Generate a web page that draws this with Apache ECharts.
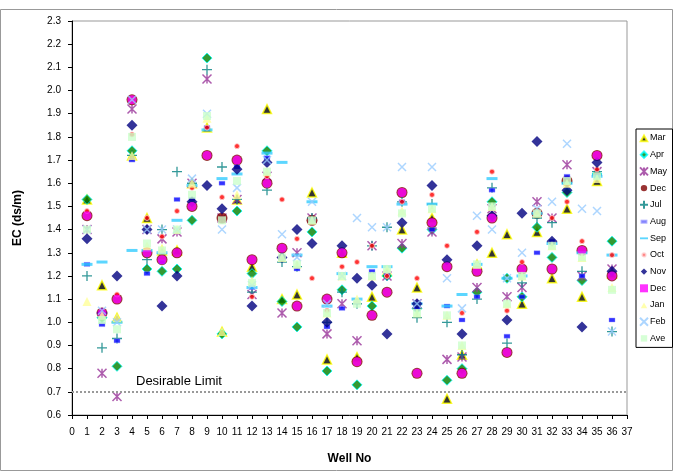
<!DOCTYPE html>
<html><head><meta charset="utf-8">
<script src="https://cdn.jsdelivr.net/npm/echarts@6/dist/echarts.min.js"></script>
<style>html,body{margin:0;padding:0;background:#fff}#c{width:674px;height:472px}</style>
</head><body><div id="c"></div>
<script>
const wells = [1,2,3,4,5,6,7,8,9,10,11,12,13,14,15,16,17,18,19,20,21,22,23,24,25,26,27,28,29,30,31,32,33,34,35,36];
const xTicks = [0,1,2,3,4,5,6,7,8,9,10,11,12,13,14,15,16,17,18,19,20,21,22,23,24,25,26,27,28,29,30,31,32,33,34,35,36,37];
const mar = [1.53,1.16,1.02,1.72,1.45,1.31,1.31,1.60,1.84,0.96,1.53,1.24,1.92,1.10,1.12,1.56,0.84,1.30,0.85,1.11,1.22,1.40,1.15,1.45,0.67,0.86,1.25,1.30,1.38,1.08,1.39,1.19,1.49,1.11,1.61,1.21];
const apr = [1.53,1.02,0.81,1.74,1.23,1.22,1.23,1.44,2.14,0.95,1.48,1.21,1.74,1.09,0.98,1.39,0.79,1.14,0.73,1.07,1.20,1.32,1.06,1.40,0.75,0.80,1.13,1.52,1.19,1.11,1.41,1.28,1.56,1.18,1.64,1.35];
const may = [1.40,0.78,0.68,1.92,1.40,1.36,1.39,1.60,2.05,1.45,1.53,1.12,1.63,1.04,1.30,1.45,0.95,1.08,0.92,1.33,1.20,1.34,1.08,1.39,0.84,0.85,1.15,1.49,1.11,1.15,1.52,1.45,1.68,1.20,1.65,1.23];
const dec1 = [1.46,1.04,1.10,1.96,1.30,1.27,1.30,1.50,1.72,1.45,1.70,1.27,1.60,1.32,1.07,1.44,1.10,1.30,0.83,1.03,1.13,1.56,0.78,1.43,1.24,0.78,1.22,1.45,0.87,1.23,1.47,1.23,1.61,1.31,1.72,1.20];
const jul = [1.20,0.89,0.93,1.72,1.27,1.40,1.65,1.60,2.09,1.67,1.53,1.13,1.57,1.26,1.24,1.45,1.00,1.13,1.08,1.33,1.41,1.52,1.02,1.51,1.00,0.86,1.10,1.58,0.91,1.17,1.45,1.43,1.60,1.22,1.65,0.96];
const aug = [1.25,0.99,0.92,1.70,1.21,1.26,1.53,1.53,1.84,1.60,1.67,1.15,1.71,1.27,1.23,1.44,0.98,1.06,1.09,1.22,1.21,1.52,1.06,1.40,1.07,1.01,1.11,1.57,0.94,1.11,1.30,1.35,1.63,1.20,1.63,1.01];
const sep = [1.25,1.26,1.00,1.31,1.31,1.30,1.44,1.59,1.83,1.62,1.64,1.15,1.73,1.69,1.29,1.52,1.07,1.21,1.10,1.24,1.24,1.51,1.08,1.51,1.07,1.12,1.25,1.62,1.19,1.20,1.47,1.34,1.60,1.30,1.63,1.29];
const oct = [1.48,1.05,1.12,1.81,1.45,1.37,1.48,1.58,1.84,1.54,1.76,1.11,1.63,1.53,1.36,1.19,1.05,1.24,1.26,1.33,1.20,1.52,1.19,1.55,1.33,1.04,1.39,1.65,1.05,1.26,1.47,1.45,1.52,1.35,1.66,1.29];
const nov = [1.36,1.04,1.20,1.85,1.40,1.07,1.20,1.52,1.59,1.49,1.66,1.07,1.69,1.28,1.40,1.34,1.00,1.33,1.19,1.16,0.95,1.43,1.08,1.59,1.27,0.95,1.33,1.46,1.01,1.47,1.78,1.35,1.57,0.98,1.69,1.22];
const dec2 = [1.46,1.04,1.10,1.96,1.30,1.27,1.30,1.50,1.72,null,1.70,1.27,1.60,1.32,1.07,null,1.10,1.30,0.83,1.03,1.13,1.56,0.78,1.43,1.24,0.78,1.22,1.45,0.87,1.23,null,1.23,null,1.31,1.72,1.20];
const jan = [1.09,1.03,1.02,1.72,1.33,1.32,1.40,1.60,1.88,0.96,1.55,1.18,1.65,1.28,1.25,1.44,1.04,1.20,1.10,1.20,1.23,1.48,1.04,1.49,1.03,0.90,1.25,1.50,1.08,1.20,1.47,1.33,1.60,1.28,1.62,1.15];
const feb = [1.40,1.05,1.00,1.96,1.40,1.40,1.40,1.62,1.90,1.40,1.58,1.16,1.70,1.38,1.28,1.52,1.08,1.20,1.45,1.41,1.41,1.67,1.08,1.67,1.19,1.06,1.46,1.40,1.19,1.30,1.49,1.52,1.77,1.49,1.48,0.96];
const ave = [1.40,1.01,0.97,1.80,1.34,1.31,1.40,1.55,1.89,1.44,1.61,1.17,1.65,1.28,1.25,1.44,1.04,1.20,1.08,1.20,1.23,1.47,1.04,1.49,1.03,0.90,1.25,1.50,1.08,1.20,1.47,1.33,1.61,1.28,1.63,1.14];
const limitValue = 0.705;

const pts = arr => wells.map((w,i)=>[w,arr[i]]).filter(p=>p[1]!=null);
const chart = echarts.init(document.getElementById('c'));
const mk = (name, arr, symbol, size, style, extra) => Object.assign({
  name, type:'scatter', data:pts(arr), symbol, symbolSize:size, itemStyle:style, silent:true
}, extra||{});

const series = [
  mk('Mar', mar, 'triangle', 9, {color:'#000', borderColor:'#ffff00', borderWidth:1.5}),
  mk('Apr', apr, 'diamond', 10, {color:'#008000', borderColor:'#00ffff', borderWidth:1}),
  mk('May', may, 'path://M0,0L10,10M10,0L0,10M5,0L5,10', 9, {color:'rgba(0,0,0,0)', borderColor:'#993399', borderWidth:1.5}),
  mk('Dec', dec1, 'circle', 11, {color:'#800000'}),
  mk('Jul', jul, 'path://M5,0L5,10M0,5L10,5', 10, {color:'rgba(0,0,0,0)', borderColor:'#008080', borderWidth:1.3}),
  mk('Aug', aug, 'rect', [6,4], {color:'#0000ff', borderColor:'#9999ff', borderWidth:0.5}),
  mk('Sep', sep, 'rect', [11,3], {color:'#33ccff'}),
  mk('Oct', oct, 'circle', 5, {color:'#ff0000', borderColor:'#ffcccc', borderWidth:1}),
  mk('Nov', nov, 'diamond', 11, {color:'#000080'}),
  mk('Dec ', dec2, 'circle', 9, {color:'#ff00ff'}),
  mk('Jan', jan, 'triangle', 9, {color:'#ffff99'}),
  mk('Feb', feb, 'path://M0,0L10,10M10,0L0,10', 8, {color:'rgba(0,0,0,0)', borderColor:'#99ccff', borderWidth:1.5}),
  mk('Ave', ave, 'rect', 8, {color:'#ccffcc'}, {
    markLine:{silent:true, symbol:'none', label:{show:false},
      lineStyle:{type:'dotted', color:'#999', width:2},
      data:[{yAxis:limitValue}]}
  })
];

const legendIcons = {
  'Mar':'path://M0,0M10,10M5,2L9,9L1,9Z',
  'Apr':'path://M0,0M10,10M5,1L9,5L5,9L1,5Z',
  'Dec':'path://M0,0M10,10M5,1A4,4,0,1,1,4.99,1Z',
  'Aug':'path://M0,0M10,10M2,4L8,4L8,6.5L2,6.5Z',
  'Sep':'path://M0,0M10,10M0,4L10,4L10,6.3L0,6.3Z',
  'Oct':'path://M0,0M10,10M5,3A2,2,0,1,1,4.99,3Z',
  'Nov':'path://M0,0M10,10M5,1L9,5L5,9L1,5Z',
  'Dec ':'rect',
  'Jan':'path://M0,0M10,10M5,2L9,9L1,9Z',
  'Ave':'path://M0,0M10,10M1,1L9,1L9,9L1,9Z'
};

chart.setOption({
  animation:false,
  backgroundColor:'#fff',
  grid:{left:72, right:47, top:21, bottom:57, show:true, borderColor:'#999', borderWidth:1},
  xAxis:{type:'value', min:xTicks[0], max:xTicks[xTicks.length-1], interval:1,
    name:'Well No', nameLocation:'middle', nameGap:38,
    nameTextStyle:{fontFamily:'Arial, Liberation Sans', fontWeight:'bold', fontSize:12, color:'#000'},
    axisLine:{lineStyle:{color:'#000'}}, axisTick:{inside:false, length:4, lineStyle:{color:'#000'}},
    axisLabel:{fontFamily:'Arial, Liberation Sans', fontSize:10, color:'#000', margin:12},
    splitLine:{show:false}},
  yAxis:{type:'value', min:0.6, max:2.3, interval:0.1,
    name:'EC (ds/m)', nameLocation:'middle', nameGap:48,
    nameTextStyle:{fontFamily:'Arial, Liberation Sans', fontWeight:'bold', fontSize:12, color:'#000'},
    axisLine:{show:true, lineStyle:{color:'#000'}}, axisTick:{show:true, length:4, lineStyle:{color:'#000'}},
    axisLabel:{fontFamily:'Arial, Liberation Sans', fontSize:10, color:'#000', margin:11, formatter:v=>v.toFixed(1)},
    splitLine:{show:false}},
  legend:{orient:'vertical', left:636, top:129, itemWidth:8, itemHeight:8, itemGap:6.7,
    padding:[4,4,4,3], borderColor:'#000', borderWidth:1, backgroundColor:'#fff',
    textStyle:{fontFamily:'Arial, Liberation Sans', fontSize:9, color:'#000', lineHeight:10, padding:[0,0,0,-3]},
    data:series.map(s=>legendIcons[s.name] ? {name:s.name, icon:legendIcons[s.name]} : s.name)},
  graphic:[
    {type:'rect', shape:{x:0.5, y:9.5, width:672, height:461}, style:{fill:'none', stroke:'#999', lineWidth:1}, silent:true, z:-10},
    {type:'text', left:136, top:375, style:{text:'Desirable Limit', font:'13px Arial, Liberation Sans', fill:'#000'}}
  ],
  series
});
</script>
</body></html>
